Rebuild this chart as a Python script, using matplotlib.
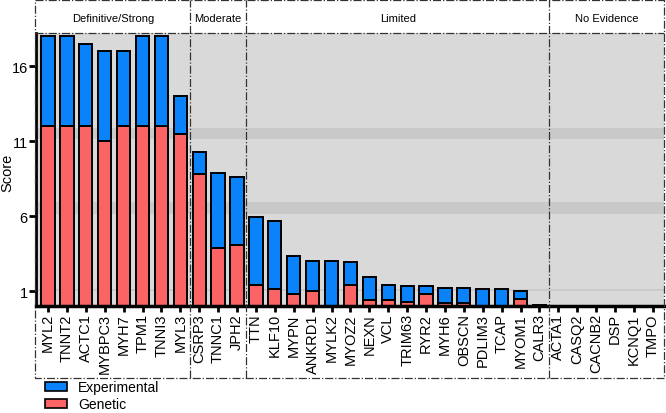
import matplotlib
matplotlib.use("Agg")
import matplotlib.pyplot as plt
import matplotlib.transforms as mtransforms
from matplotlib.patches import Patch
import numpy as np

plt.rcParams['font.family'] = ['Liberation Sans', 'DejaVu Sans']

genes = ["MYL2", "TNNT2", "ACTC1", "MYBPC3", "MYH7", "TPM1", "TNNI3", "MYL3",
         "CSRP3", "TNNC1", "JPH2",
         "TTN", "KLF10", "MYPN", "ANKRD1", "MYLK2", "MYOZ2", "NEXN", "VCL",
         "TRIM63", "RYR2", "MYH6", "OBSCN", "PDLIM3", "TCAP", "MYOM1", "CALR3",
         "ACTA1", "CASQ2", "CACNB2", "DSP", "KCNQ1", "TMPO"]
genetic = [12, 12, 12, 11, 12, 12, 12, 11.5,
           8.8, 3.9, 4.1,
           1.45, 1.15, 0.85, 1.0, 0.0, 1.45, 0.4, 0.4,
           0.3, 0.85, 0.25, 0.25, 0.0, 0.0, 0.5, 0.0,
           0, 0, 0, 0, 0, 0]
experimental = [6, 6, 5.5, 6, 5, 6, 6, 2.5,
                1.5, 5.0, 4.5,
                4.5, 4.55, 2.5, 2.05, 3.05, 1.5, 1.55, 1.05,
                1.05, 0.5, 0.95, 1.0, 1.15, 1.15, 0.5, 0.1,
                0, 0, 0, 0, 0, 0]
groups = ["Definitive/Strong", "Moderate", "Limited", "No Evidence"]
group_sizes = [8, 3, 16, 6]
yticks = [1, 6, 11, 16]

blue = "#0a82fa"
red = "#fa6464"
bg = "#d9d9d9"
band = "#c9c9c9"

W, H = 666, 414
fig = plt.figure(figsize=(W / 100, H / 100), dpi=100)
ax_l, ax_r, ax_b, ax_t = 36, 664, 307.3, 34
ax = fig.add_axes([ax_l / W, (H - ax_b) / H, (ax_r - ax_l) / W, (ax_b - ax_t) / H])

x = np.arange(len(genes))
ax.set_facecolor(bg)
for lo, hi in [(11.15, 11.87), (6.15, 6.93), (1.0, 1.15)]:
    ax.axhspan(lo, hi, color=band, lw=0, zorder=0.5)

ax.bar(x, genetic, width=0.7, color=red, edgecolor="black", linewidth=1.4, zorder=2)
ax.bar(x, experimental, width=0.7, bottom=genetic, color=blue, edgecolor="black",
       linewidth=1.4, zorder=2)

ax.set_xlim(-0.635, 32.59)
ax.set_ylim(0, 18.22)
ax.set_yticks(yticks)
ax.set_yticklabels([str(t) for t in yticks], fontsize=10.5)
ax.set_xticks(x)
ax.set_xticklabels(genes, rotation=90, fontsize=10.5)
ax.tick_params(axis='x', length=4, width=2, pad=1)
ax.tick_params(axis='y', length=5, width=2, pad=1)
ax.set_ylabel("Score", fontsize=10.5)
ax.yaxis.set_label_coords(-0.034, 0.493)

for s in ["top", "right"]:
    ax.spines[s].set_visible(False)
ax.spines["left"].set_linewidth(2)
ax.spines["bottom"].set_linewidth(2.5)
ax.spines["bottom"].set_zorder(3)

# frame and dividers
h_ax = ax_b - ax_t
y_top = 1 + (ax_t - 0.6) / h_ax
y_bot = -(379 - ax_b) / h_ax
x_left = -1.0 / (ax_r - ax_l)
x_right = 1.0
ls = dict(color="#333333", lw=0.9, ls="-.", clip_on=False, zorder=5)
ax.plot([x_left, x_right, x_right, x_left, x_left],
        [y_top, y_top, y_bot, y_bot, y_top], transform=ax.transAxes, **ls)
ax.plot([x_left, x_right], [1, 1], transform=ax.transAxes, **ls)

trans = mtransforms.blended_transform_factory(ax.transData, ax.transAxes)
bounds = np.cumsum(group_sizes)
xmin, xmax = ax.get_xlim()
edges = [xmin] + [b - 0.5 for b in bounds[:-1]] + [xmax]
for b in edges[1:-1]:
    ax.plot([b, b], [y_bot, y_top], transform=trans, **ls)
y_hdr = 1 + (ax_t - 19) / h_ax
for i, g in enumerate(groups):
    ax.text((edges[i] + edges[i + 1]) / 2, y_hdr, g, transform=trans,
            ha="center", va="center", fontsize=8)

handles = [Patch(facecolor=blue, edgecolor="black", linewidth=1.2, label="Experimental"),
           Patch(facecolor=red, edgecolor="black", linewidth=1.2, label="Genetic")]
fig.legend(handles=handles, loc="upper left", bbox_to_anchor=(45 / W, 1 - 381 / H),
           frameon=False, fontsize=10, handlelength=1.6, handleheight=0.62,
           handletextpad=0.8, labelspacing=0.25, borderpad=0, borderaxespad=0)

fig.savefig("out.png", dpi=100)
